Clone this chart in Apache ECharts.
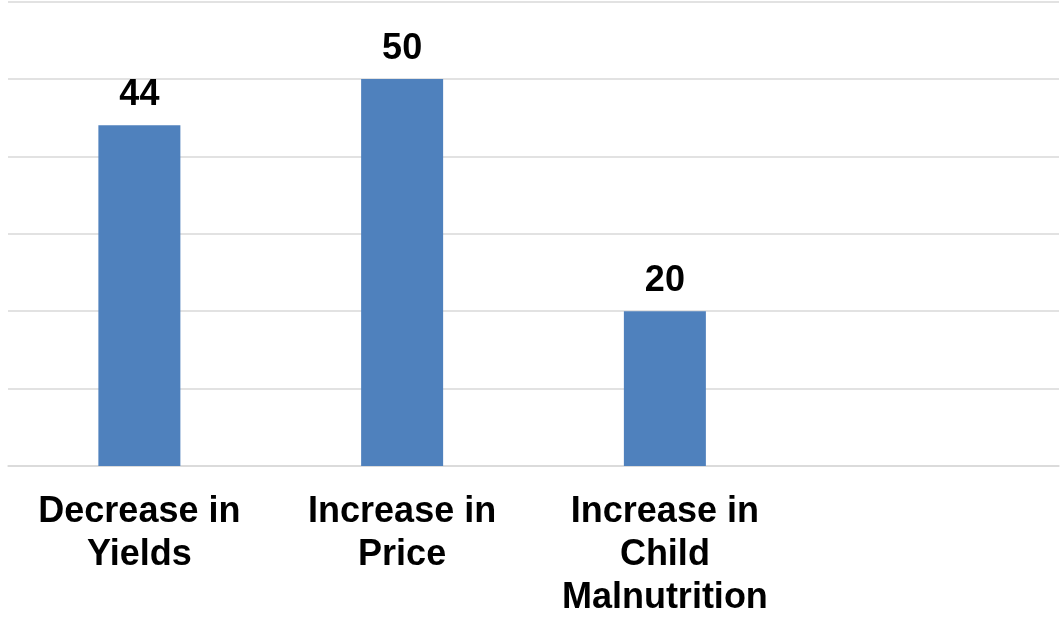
<!DOCTYPE html>
<html>
<head>
<meta charset="utf-8">
<script src="https://cdn.jsdelivr.net/npm/echarts@6/dist/echarts.min.js"></script>
<style>
  html, body { margin: 0; padding: 0; background: #fff; }
  #main { width: 1064px; height: 620px; }
</style>
</head>
<body>
<div id="main"></div>
<script>
// chart data
var categories = ['Decrease in\nYields', 'Increase in\nPrice', 'Increase in\nChild\nMalnutrition', ''];
var values = [44, 50, 20, null];
var yMin = 0, yMax = 60, yStep = 10;

var chart = echarts.init(document.getElementById('main'));

chart.setOption({
  animation: false,
  grid: {
    left: 8,
    right: 5,
    top: 1.5,
    bottom: 153,
    containLabel: false
  },
  xAxis: {
    type: 'category',
    data: categories,
    axisLine: { lineStyle: { color: '#d9d9d9', width: 1.5 } },
    axisTick: { show: false },
    axisLabel: {
      interval: 0,
      margin: 25,
      fontFamily: 'Liberation Sans, Arial, sans-serif',
      fontWeight: 'bold',
      fontSize: 36,
      lineHeight: 43,
      color: '#000'
    }
  },
  yAxis: {
    type: 'value',
    min: yMin,
    max: yMax,
    interval: yStep,
    axisLabel: { show: false },
    axisLine: { show: false },
    axisTick: { show: false },
    splitLine: { lineStyle: { color: '#d9d9d9', width: 1.5 } }
  },
  series: [{
    type: 'bar',
    data: values,
    barWidth: 82,
    itemStyle: { color: '#4f81bd' },
    label: {
      show: true,
      position: 'top',
      distance: 12,
      fontFamily: 'Liberation Sans, Arial, sans-serif',
      fontWeight: 'bold',
      fontSize: 36,
      color: '#000'
    }
  }]
});
</script>
</body>
</html>
